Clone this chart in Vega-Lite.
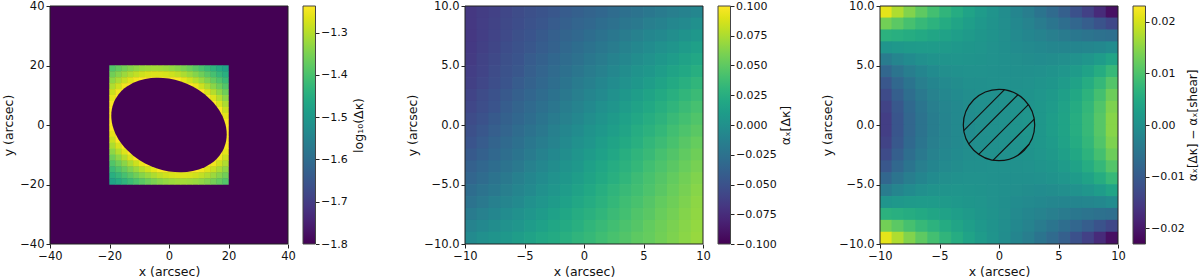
{
"$schema":"https://vega.github.io/schema/vega-lite/v6.json",
"padding":{"left":2,"top":0,"right":0,"bottom":0},
"bounds":"flush",
"spacing":15,
"config":{
"font":"DejaVu Sans",
"view":{"stroke":null},
"axis":{"grid":false,"domain":false,"labelFlush":false,"labelOverlap":false,"tickColor":"#222","tickSize":4,"tickWidth":1,"labelFontSize":11.5,"labelColor":"#111","labelPadding":2,"titleFontSize":12.5,"titleFontWeight":"normal","titleColor":"#111","titlePadding":4}
},
"datasets":{
"bg1":[{"x":-40,"x2":40,"y":-40,"y2":40,"v":-1.8}],
"fr":[{"x":-10,"x2":10,"y":-10,"y2":10}],
"cb1":[{"lo":-1.8,"hi":-1.237}],
"cb2":[{"lo":-0.1,"hi":0.1}],
"cb3":[{"lo":-0.023,"hi":0.023}],
"none":[],
"k1":[
{"x":-19,"y":19,"v":-1.388},{"x":-17,"y":19,"v":-1.371},{"x":-15,"y":19,"v":-1.356},{"x":-13,"y":19,"v":-1.342},{"x":-11,"y":19,"v":-1.331},{"x":-9,"y":19,"v":-1.322},{"x":-7,"y":19,"v":-1.317},{"x":-5,"y":19,"v":-1.314},{"x":-3,"y":19,"v":-1.315},{"x":-1,"y":19,"v":-1.32},{"x":1,"y":19,"v":-1.327},{"x":3,"y":19,"v":-1.337},{"x":5,"y":19,"v":-1.35},{"x":7,"y":19,"v":-1.364},{"x":9,"y":19,"v":-1.381},{"x":11,"y":19,"v":-1.398},{"x":13,"y":19,"v":-1.416},{"x":15,"y":19,"v":-1.435},{"x":17,"y":19,"v":-1.454},{"x":19,"y":19,"v":-1.473},
{"x":-19,"y":17,"v":-1.359},{"x":-17,"y":17,"v":-1.339},{"x":-15,"y":17,"v":-1.321},{"x":-13,"y":17,"v":-1.304},{"x":-11,"y":17,"v":-1.29},{"x":-9,"y":17,"v":-1.278},{"x":-7,"y":17,"v":-1.27},{"x":-5,"y":17,"v":-1.266},{"x":-3,"y":17,"v":-1.267},{"x":-1,"y":17,"v":-1.271},{"x":1,"y":17,"v":-1.279},{"x":3,"y":17,"v":-1.291},{"x":5,"y":17,"v":-1.306},{"x":7,"y":17,"v":-1.323},{"x":9,"y":17,"v":-1.341},{"x":11,"y":17,"v":-1.361},{"x":13,"y":17,"v":-1.382},{"x":15,"y":17,"v":-1.403},{"x":17,"y":17,"v":-1.425},{"x":19,"y":17,"v":-1.446},
{"x":-19,"y":15,"v":-1.331},{"x":-17,"y":15,"v":-1.308},{"x":-15,"y":15,"v":-1.285},{"x":-13,"y":15,"v":-1.264},{"x":-11,"y":15,"v":-1.246},{"x":-9,"y":15,"v":-1.237},{"x":-7,"y":15,"v":-1.237},{"x":-5,"y":15,"v":-1.237},{"x":-3,"y":15,"v":-1.237},{"x":-1,"y":15,"v":-1.237},{"x":1,"y":15,"v":-1.237},{"x":3,"y":15,"v":-1.239},{"x":5,"y":15,"v":-1.257},{"x":7,"y":15,"v":-1.277},{"x":9,"y":15,"v":-1.299},{"x":11,"y":15,"v":-1.322},{"x":13,"y":15,"v":-1.346},{"x":15,"y":15,"v":-1.37},{"x":17,"y":15,"v":-1.394},{"x":19,"y":15,"v":-1.418},
{"x":-19,"y":13,"v":-1.304},{"x":-17,"y":13,"v":-1.277},{"x":-15,"y":13,"v":-1.249},{"x":-13,"y":13,"v":-1.237},{"x":5,"y":13,"v":-1.237},{"x":7,"y":13,"v":-1.237},{"x":9,"y":13,"v":-1.253},{"x":11,"y":13,"v":-1.28},{"x":13,"y":13,"v":-1.308},{"x":15,"y":13,"v":-1.336},{"x":17,"y":13,"v":-1.363},{"x":19,"y":13,"v":-1.39},
{"x":-19,"y":11,"v":-1.28},{"x":-17,"y":11,"v":-1.247},{"x":-15,"y":11,"v":-1.237},{"x":9,"y":11,"v":-1.237},{"x":11,"y":11,"v":-1.237},{"x":13,"y":11,"v":-1.268},{"x":15,"y":11,"v":-1.301},{"x":17,"y":11,"v":-1.332},{"x":19,"y":11,"v":-1.362},
{"x":-19,"y":9,"v":-1.258},{"x":-17,"y":9,"v":-1.237},{"x":13,"y":9,"v":-1.237},{"x":15,"y":9,"v":-1.265},{"x":17,"y":9,"v":-1.3},{"x":19,"y":9,"v":-1.333},
{"x":-19,"y":7,"v":-1.242},{"x":15,"y":7,"v":-1.237},{"x":17,"y":7,"v":-1.269},{"x":19,"y":7,"v":-1.306},
{"x":-19,"y":5,"v":-1.237},{"x":17,"y":5,"v":-1.24},{"x":19,"y":5,"v":-1.282},
{"x":-19,"y":3,"v":-1.237},{"x":17,"y":3,"v":-1.237},{"x":19,"y":3,"v":-1.26},
{"x":-19,"y":1,"v":-1.237},{"x":19,"y":1,"v":-1.243},
{"x":-19,"y":-1,"v":-1.243},{"x":19,"y":-1,"v":-1.237},
{"x":-19,"y":-3,"v":-1.26},{"x":-17,"y":-3,"v":-1.237},{"x":19,"y":-3,"v":-1.237},
{"x":-19,"y":-5,"v":-1.282},{"x":-17,"y":-5,"v":-1.24},{"x":19,"y":-5,"v":-1.237},
{"x":-19,"y":-7,"v":-1.306},{"x":-17,"y":-7,"v":-1.269},{"x":-15,"y":-7,"v":-1.237},{"x":19,"y":-7,"v":-1.242},
{"x":-19,"y":-9,"v":-1.333},{"x":-17,"y":-9,"v":-1.3},{"x":-15,"y":-9,"v":-1.265},{"x":-13,"y":-9,"v":-1.237},{"x":17,"y":-9,"v":-1.237},{"x":19,"y":-9,"v":-1.258},
{"x":-19,"y":-11,"v":-1.362},{"x":-17,"y":-11,"v":-1.332},{"x":-15,"y":-11,"v":-1.301},{"x":-13,"y":-11,"v":-1.268},{"x":-11,"y":-11,"v":-1.237},{"x":-9,"y":-11,"v":-1.237},{"x":15,"y":-11,"v":-1.237},{"x":17,"y":-11,"v":-1.247},{"x":19,"y":-11,"v":-1.28},
{"x":-19,"y":-13,"v":-1.39},{"x":-17,"y":-13,"v":-1.363},{"x":-15,"y":-13,"v":-1.336},{"x":-13,"y":-13,"v":-1.308},{"x":-11,"y":-13,"v":-1.28},{"x":-9,"y":-13,"v":-1.253},{"x":-7,"y":-13,"v":-1.237},{"x":-5,"y":-13,"v":-1.237},{"x":13,"y":-13,"v":-1.237},{"x":15,"y":-13,"v":-1.249},{"x":17,"y":-13,"v":-1.277},{"x":19,"y":-13,"v":-1.304},
{"x":-19,"y":-15,"v":-1.418},{"x":-17,"y":-15,"v":-1.394},{"x":-15,"y":-15,"v":-1.37},{"x":-13,"y":-15,"v":-1.346},{"x":-11,"y":-15,"v":-1.322},{"x":-9,"y":-15,"v":-1.299},{"x":-7,"y":-15,"v":-1.277},{"x":-5,"y":-15,"v":-1.257},{"x":-3,"y":-15,"v":-1.239},{"x":-1,"y":-15,"v":-1.237},{"x":1,"y":-15,"v":-1.237},{"x":3,"y":-15,"v":-1.237},{"x":5,"y":-15,"v":-1.237},{"x":7,"y":-15,"v":-1.237},{"x":9,"y":-15,"v":-1.237},{"x":11,"y":-15,"v":-1.246},{"x":13,"y":-15,"v":-1.264},{"x":15,"y":-15,"v":-1.285},{"x":17,"y":-15,"v":-1.308},{"x":19,"y":-15,"v":-1.331},
{"x":-19,"y":-17,"v":-1.446},{"x":-17,"y":-17,"v":-1.425},{"x":-15,"y":-17,"v":-1.403},{"x":-13,"y":-17,"v":-1.382},{"x":-11,"y":-17,"v":-1.361},{"x":-9,"y":-17,"v":-1.341},{"x":-7,"y":-17,"v":-1.323},{"x":-5,"y":-17,"v":-1.306},{"x":-3,"y":-17,"v":-1.291},{"x":-1,"y":-17,"v":-1.279},{"x":1,"y":-17,"v":-1.271},{"x":3,"y":-17,"v":-1.267},{"x":5,"y":-17,"v":-1.266},{"x":7,"y":-17,"v":-1.27},{"x":9,"y":-17,"v":-1.278},{"x":11,"y":-17,"v":-1.29},{"x":13,"y":-17,"v":-1.304},{"x":15,"y":-17,"v":-1.321},{"x":17,"y":-17,"v":-1.339},{"x":19,"y":-17,"v":-1.359},
{"x":-19,"y":-19,"v":-1.473},{"x":-17,"y":-19,"v":-1.454},{"x":-15,"y":-19,"v":-1.435},{"x":-13,"y":-19,"v":-1.416},{"x":-11,"y":-19,"v":-1.398},{"x":-9,"y":-19,"v":-1.381},{"x":-7,"y":-19,"v":-1.364},{"x":-5,"y":-19,"v":-1.35},{"x":-3,"y":-19,"v":-1.337},{"x":-1,"y":-19,"v":-1.327},{"x":1,"y":-19,"v":-1.32},{"x":3,"y":-19,"v":-1.315},{"x":5,"y":-19,"v":-1.314},{"x":7,"y":-19,"v":-1.317},{"x":9,"y":-19,"v":-1.322},{"x":11,"y":-19,"v":-1.331},{"x":13,"y":-19,"v":-1.342},{"x":15,"y":-19,"v":-1.356},{"x":17,"y":-19,"v":-1.371},{"x":19,"y":-19,"v":-1.388}
],
"ell":[
{"x":-19.4,"lo":3.14,"hi":3.14,"v":-1.8},{"x":-19.35,"lo":1.98,"hi":4.29,"v":-1.8},{"x":-19.2,"lo":0.86,"hi":5.36,"v":-1.8},{"x":-19,"lo":-0.08,"hi":6.24,"v":-1.8},{"x":-18.5,"lo":-1.7,"hi":7.7,"v":-1.8},{"x":-18,"lo":-2.9,"hi":8.74,"v":-1.8},{"x":-17,"lo":-4.76,"hi":10.27,"v":-1.8},{"x":-16,"lo":-6.23,"hi":11.41,"v":-1.8},{"x":-15,"lo":-7.46,"hi":12.32,"v":-1.8},{"x":-14,"lo":-8.52,"hi":13.06,"v":-1.8},{"x":-12,"lo":-10.3,"hi":14.19,"v":-1.8},{"x":-10,"lo":-11.74,"hi":14.98,"v":-1.8},{"x":-8,"lo":-12.9,"hi":15.5,"v":-1.8},{"x":-6,"lo":-13.85,"hi":15.79,"v":-1.8},{"x":-4,"lo":-14.6,"hi":15.9,"v":-1.8},{"x":-2,"lo":-15.18,"hi":15.83,"v":-1.8},{"x":0,"lo":-15.59,"hi":15.59,"v":-1.8},{"x":2,"lo":-15.83,"hi":15.18,"v":-1.8},{"x":4,"lo":-15.9,"hi":14.6,"v":-1.8},{"x":6,"lo":-15.79,"hi":13.85,"v":-1.8},{"x":8,"lo":-15.5,"hi":12.9,"v":-1.8},{"x":10,"lo":-14.98,"hi":11.74,"v":-1.8},{"x":12,"lo":-14.19,"hi":10.3,"v":-1.8},{"x":14,"lo":-13.06,"hi":8.52,"v":-1.8},{"x":15,"lo":-12.32,"hi":7.46,"v":-1.8},{"x":16,"lo":-11.41,"hi":6.23,"v":-1.8},{"x":17,"lo":-10.27,"hi":4.76,"v":-1.8},{"x":18,"lo":-8.74,"hi":2.9,"v":-1.8},{"x":18.5,"lo":-7.7,"hi":1.7,"v":-1.8},{"x":19,"lo":-6.24,"hi":0.08,"v":-1.8},{"x":19.2,"lo":-5.36,"hi":-0.86,"v":-1.8},{"x":19.35,"lo":-4.29,"hi":-1.98,"v":-1.8},{"x":19.4,"lo":-3.14,"hi":-3.14,"v":-1.8}
],
"a2":[
{"x":-9.5,"y":9.5,"v":-0.068},{"x":-8.5,"y":9.5,"v":-0.065},{"x":-7.5,"y":9.5,"v":-0.062},{"x":-6.5,"y":9.5,"v":-0.058},{"x":-5.5,"y":9.5,"v":-0.055},{"x":-4.5,"y":9.5,"v":-0.052},{"x":-3.5,"y":9.5,"v":-0.049},{"x":-2.5,"y":9.5,"v":-0.046},{"x":-1.5,"y":9.5,"v":-0.043},{"x":-0.5,"y":9.5,"v":-0.04},{"x":0.5,"y":9.5,"v":-0.037},{"x":1.5,"y":9.5,"v":-0.034},{"x":2.5,"y":9.5,"v":-0.03},{"x":3.5,"y":9.5,"v":-0.027},{"x":4.5,"y":9.5,"v":-0.024},{"x":5.5,"y":9.5,"v":-0.021},{"x":6.5,"y":9.5,"v":-0.018},{"x":7.5,"y":9.5,"v":-0.015},{"x":8.5,"y":9.5,"v":-0.012},{"x":9.5,"y":9.5,"v":-0.009},
{"x":-9.5,"y":8.5,"v":-0.068},{"x":-8.5,"y":8.5,"v":-0.064},{"x":-7.5,"y":8.5,"v":-0.061},{"x":-6.5,"y":8.5,"v":-0.057},{"x":-5.5,"y":8.5,"v":-0.054},{"x":-4.5,"y":8.5,"v":-0.05},{"x":-3.5,"y":8.5,"v":-0.047},{"x":-2.5,"y":8.5,"v":-0.043},{"x":-1.5,"y":8.5,"v":-0.04},{"x":-0.5,"y":8.5,"v":-0.036},{"x":0.5,"y":8.5,"v":-0.033},{"x":1.5,"y":8.5,"v":-0.029},{"x":2.5,"y":8.5,"v":-0.026},{"x":3.5,"y":8.5,"v":-0.022},{"x":4.5,"y":8.5,"v":-0.019},{"x":5.5,"y":8.5,"v":-0.015},{"x":6.5,"y":8.5,"v":-0.012},{"x":7.5,"y":8.5,"v":-0.008},{"x":8.5,"y":8.5,"v":-0.005},{"x":9.5,"y":8.5,"v":-0.001},
{"x":-9.5,"y":7.5,"v":-0.068},{"x":-8.5,"y":7.5,"v":-0.064},{"x":-7.5,"y":7.5,"v":-0.06},{"x":-6.5,"y":7.5,"v":-0.056},{"x":-5.5,"y":7.5,"v":-0.052},{"x":-4.5,"y":7.5,"v":-0.048},{"x":-3.5,"y":7.5,"v":-0.044},{"x":-2.5,"y":7.5,"v":-0.04},{"x":-1.5,"y":7.5,"v":-0.037},{"x":-0.5,"y":7.5,"v":-0.033},{"x":0.5,"y":7.5,"v":-0.029},{"x":1.5,"y":7.5,"v":-0.025},{"x":2.5,"y":7.5,"v":-0.021},{"x":3.5,"y":7.5,"v":-0.017},{"x":4.5,"y":7.5,"v":-0.013},{"x":5.5,"y":7.5,"v":-0.009},{"x":6.5,"y":7.5,"v":-0.006},{"x":7.5,"y":7.5,"v":-0.002},{"x":8.5,"y":7.5,"v":0.002},{"x":9.5,"y":7.5,"v":0.006},
{"x":-9.5,"y":6.5,"v":-0.067},{"x":-8.5,"y":6.5,"v":-0.063},{"x":-7.5,"y":6.5,"v":-0.059},{"x":-6.5,"y":6.5,"v":-0.054},{"x":-5.5,"y":6.5,"v":-0.05},{"x":-4.5,"y":6.5,"v":-0.046},{"x":-3.5,"y":6.5,"v":-0.042},{"x":-2.5,"y":6.5,"v":-0.038},{"x":-1.5,"y":6.5,"v":-0.033},{"x":-0.5,"y":6.5,"v":-0.029},{"x":0.5,"y":6.5,"v":-0.025},{"x":1.5,"y":6.5,"v":-0.021},{"x":2.5,"y":6.5,"v":-0.017},{"x":3.5,"y":6.5,"v":-0.012},{"x":4.5,"y":6.5,"v":-0.008},{"x":5.5,"y":6.5,"v":-0.004},{"x":6.5,"y":6.5,"v":0},{"x":7.5,"y":6.5,"v":0.004},{"x":8.5,"y":6.5,"v":0.009},{"x":9.5,"y":6.5,"v":0.013},
{"x":-9.5,"y":5.5,"v":-0.066},{"x":-8.5,"y":5.5,"v":-0.061},{"x":-7.5,"y":5.5,"v":-0.057},{"x":-6.5,"y":5.5,"v":-0.052},{"x":-5.5,"y":5.5,"v":-0.048},{"x":-4.5,"y":5.5,"v":-0.043},{"x":-3.5,"y":5.5,"v":-0.039},{"x":-2.5,"y":5.5,"v":-0.034},{"x":-1.5,"y":5.5,"v":-0.03},{"x":-0.5,"y":5.5,"v":-0.026},{"x":0.5,"y":5.5,"v":-0.021},{"x":1.5,"y":5.5,"v":-0.017},{"x":2.5,"y":5.5,"v":-0.012},{"x":3.5,"y":5.5,"v":-0.008},{"x":4.5,"y":5.5,"v":-0.003},{"x":5.5,"y":5.5,"v":0.001},{"x":6.5,"y":5.5,"v":0.006},{"x":7.5,"y":5.5,"v":0.01},{"x":8.5,"y":5.5,"v":0.015},{"x":9.5,"y":5.5,"v":0.019},
{"x":-9.5,"y":4.5,"v":-0.064},{"x":-8.5,"y":4.5,"v":-0.06},{"x":-7.5,"y":4.5,"v":-0.055},{"x":-6.5,"y":4.5,"v":-0.05},{"x":-5.5,"y":4.5,"v":-0.046},{"x":-4.5,"y":4.5,"v":-0.041},{"x":-3.5,"y":4.5,"v":-0.036},{"x":-2.5,"y":4.5,"v":-0.031},{"x":-1.5,"y":4.5,"v":-0.027},{"x":-0.5,"y":4.5,"v":-0.022},{"x":0.5,"y":4.5,"v":-0.017},{"x":1.5,"y":4.5,"v":-0.013},{"x":2.5,"y":4.5,"v":-0.008},{"x":3.5,"y":4.5,"v":-0.003},{"x":4.5,"y":4.5,"v":0.002},{"x":5.5,"y":4.5,"v":0.006},{"x":6.5,"y":4.5,"v":0.011},{"x":7.5,"y":4.5,"v":0.016},{"x":8.5,"y":4.5,"v":0.02},{"x":9.5,"y":4.5,"v":0.025},
{"x":-9.5,"y":3.5,"v":-0.063},{"x":-8.5,"y":3.5,"v":-0.058},{"x":-7.5,"y":3.5,"v":-0.053},{"x":-6.5,"y":3.5,"v":-0.048},{"x":-5.5,"y":3.5,"v":-0.043},{"x":-4.5,"y":3.5,"v":-0.038},{"x":-3.5,"y":3.5,"v":-0.033},{"x":-2.5,"y":3.5,"v":-0.028},{"x":-1.5,"y":3.5,"v":-0.023},{"x":-0.5,"y":3.5,"v":-0.018},{"x":0.5,"y":3.5,"v":-0.014},{"x":1.5,"y":3.5,"v":-0.009},{"x":2.5,"y":3.5,"v":-0.004},{"x":3.5,"y":3.5,"v":0.001},{"x":4.5,"y":3.5,"v":0.006},{"x":5.5,"y":3.5,"v":0.011},{"x":6.5,"y":3.5,"v":0.016},{"x":7.5,"y":3.5,"v":0.021},{"x":8.5,"y":3.5,"v":0.026},{"x":9.5,"y":3.5,"v":0.031},
{"x":-9.5,"y":2.5,"v":-0.06},{"x":-8.5,"y":2.5,"v":-0.055},{"x":-7.5,"y":2.5,"v":-0.05},{"x":-6.5,"y":2.5,"v":-0.045},{"x":-5.5,"y":2.5,"v":-0.04},{"x":-4.5,"y":2.5,"v":-0.035},{"x":-3.5,"y":2.5,"v":-0.03},{"x":-2.5,"y":2.5,"v":-0.025},{"x":-1.5,"y":2.5,"v":-0.02},{"x":-0.5,"y":2.5,"v":-0.015},{"x":0.5,"y":2.5,"v":-0.01},{"x":1.5,"y":2.5,"v":-0.005},{"x":2.5,"y":2.5,"v":0},{"x":3.5,"y":2.5,"v":0.006},{"x":4.5,"y":2.5,"v":0.011},{"x":5.5,"y":2.5,"v":0.016},{"x":6.5,"y":2.5,"v":0.021},{"x":7.5,"y":2.5,"v":0.026},{"x":8.5,"y":2.5,"v":0.031},{"x":9.5,"y":2.5,"v":0.036},
{"x":-9.5,"y":1.5,"v":-0.058},{"x":-8.5,"y":1.5,"v":-0.053},{"x":-7.5,"y":1.5,"v":-0.048},{"x":-6.5,"y":1.5,"v":-0.042},{"x":-5.5,"y":1.5,"v":-0.037},{"x":-4.5,"y":1.5,"v":-0.032},{"x":-3.5,"y":1.5,"v":-0.027},{"x":-2.5,"y":1.5,"v":-0.022},{"x":-1.5,"y":1.5,"v":-0.016},{"x":-0.5,"y":1.5,"v":-0.011},{"x":0.5,"y":1.5,"v":-0.006},{"x":1.5,"y":1.5,"v":-0.001},{"x":2.5,"y":1.5,"v":0.004},{"x":3.5,"y":1.5,"v":0.01},{"x":4.5,"y":1.5,"v":0.015},{"x":5.5,"y":1.5,"v":0.02},{"x":6.5,"y":1.5,"v":0.025},{"x":7.5,"y":1.5,"v":0.03},{"x":8.5,"y":1.5,"v":0.036},{"x":9.5,"y":1.5,"v":0.041},
{"x":-9.5,"y":0.5,"v":-0.055},{"x":-8.5,"y":0.5,"v":-0.05},{"x":-7.5,"y":0.5,"v":-0.044},{"x":-6.5,"y":0.5,"v":-0.039},{"x":-5.5,"y":0.5,"v":-0.034},{"x":-4.5,"y":0.5,"v":-0.029},{"x":-3.5,"y":0.5,"v":-0.023},{"x":-2.5,"y":0.5,"v":-0.018},{"x":-1.5,"y":0.5,"v":-0.013},{"x":-0.5,"y":0.5,"v":-0.008},{"x":0.5,"y":0.5,"v":-0.002},{"x":1.5,"y":0.5,"v":0.003},{"x":2.5,"y":0.5,"v":0.008},{"x":3.5,"y":0.5,"v":0.014},{"x":4.5,"y":0.5,"v":0.019},{"x":5.5,"y":0.5,"v":0.024},{"x":6.5,"y":0.5,"v":0.029},{"x":7.5,"y":0.5,"v":0.035},{"x":8.5,"y":0.5,"v":0.04},{"x":9.5,"y":0.5,"v":0.045},
{"x":-9.5,"y":-0.5,"v":-0.052},{"x":-8.5,"y":-0.5,"v":-0.046},{"x":-7.5,"y":-0.5,"v":-0.041},{"x":-6.5,"y":-0.5,"v":-0.036},{"x":-5.5,"y":-0.5,"v":-0.03},{"x":-4.5,"y":-0.5,"v":-0.025},{"x":-3.5,"y":-0.5,"v":-0.02},{"x":-2.5,"y":-0.5,"v":-0.014},{"x":-1.5,"y":-0.5,"v":-0.009},{"x":-0.5,"y":-0.5,"v":-0.004},{"x":0.5,"y":-0.5,"v":0.002},{"x":1.5,"y":-0.5,"v":0.007},{"x":2.5,"y":-0.5,"v":0.012},{"x":3.5,"y":-0.5,"v":0.017},{"x":4.5,"y":-0.5,"v":0.023},{"x":5.5,"y":-0.5,"v":0.028},{"x":6.5,"y":-0.5,"v":0.033},{"x":7.5,"y":-0.5,"v":0.039},{"x":8.5,"y":-0.5,"v":0.044},{"x":9.5,"y":-0.5,"v":0.049},
{"x":-9.5,"y":-1.5,"v":-0.048},{"x":-8.5,"y":-1.5,"v":-0.043},{"x":-7.5,"y":-1.5,"v":-0.037},{"x":-6.5,"y":-1.5,"v":-0.032},{"x":-5.5,"y":-1.5,"v":-0.027},{"x":-4.5,"y":-1.5,"v":-0.021},{"x":-3.5,"y":-1.5,"v":-0.016},{"x":-2.5,"y":-1.5,"v":-0.011},{"x":-1.5,"y":-1.5,"v":-0.005},{"x":-0.5,"y":-1.5,"v":0},{"x":0.5,"y":-1.5,"v":0.005},{"x":1.5,"y":-1.5,"v":0.011},{"x":2.5,"y":-1.5,"v":0.016},{"x":3.5,"y":-1.5,"v":0.021},{"x":4.5,"y":-1.5,"v":0.026},{"x":5.5,"y":-1.5,"v":0.032},{"x":6.5,"y":-1.5,"v":0.037},{"x":7.5,"y":-1.5,"v":0.042},{"x":8.5,"y":-1.5,"v":0.048},{"x":9.5,"y":-1.5,"v":0.053},
{"x":-9.5,"y":-2.5,"v":-0.044},{"x":-8.5,"y":-2.5,"v":-0.039},{"x":-7.5,"y":-2.5,"v":-0.033},{"x":-6.5,"y":-2.5,"v":-0.028},{"x":-5.5,"y":-2.5,"v":-0.023},{"x":-4.5,"y":-2.5,"v":-0.018},{"x":-3.5,"y":-2.5,"v":-0.012},{"x":-2.5,"y":-2.5,"v":-0.007},{"x":-1.5,"y":-2.5,"v":-0.002},{"x":-0.5,"y":-2.5,"v":0.004},{"x":0.5,"y":-2.5,"v":0.009},{"x":1.5,"y":-2.5,"v":0.014},{"x":2.5,"y":-2.5,"v":0.019},{"x":3.5,"y":-2.5,"v":0.025},{"x":4.5,"y":-2.5,"v":0.03},{"x":5.5,"y":-2.5,"v":0.035},{"x":6.5,"y":-2.5,"v":0.041},{"x":7.5,"y":-2.5,"v":0.046},{"x":8.5,"y":-2.5,"v":0.051},{"x":9.5,"y":-2.5,"v":0.056},
{"x":-9.5,"y":-3.5,"v":-0.039},{"x":-8.5,"y":-3.5,"v":-0.034},{"x":-7.5,"y":-3.5,"v":-0.029},{"x":-6.5,"y":-3.5,"v":-0.024},{"x":-5.5,"y":-3.5,"v":-0.019},{"x":-4.5,"y":-3.5,"v":-0.013},{"x":-3.5,"y":-3.5,"v":-0.008},{"x":-2.5,"y":-3.5,"v":-0.003},{"x":-1.5,"y":-3.5,"v":0.002},{"x":-0.5,"y":-3.5,"v":0.007},{"x":0.5,"y":-3.5,"v":0.013},{"x":1.5,"y":-3.5,"v":0.018},{"x":2.5,"y":-3.5,"v":0.023},{"x":3.5,"y":-3.5,"v":0.028},{"x":4.5,"y":-3.5,"v":0.033},{"x":5.5,"y":-3.5,"v":0.039},{"x":6.5,"y":-3.5,"v":0.044},{"x":7.5,"y":-3.5,"v":0.049},{"x":8.5,"y":-3.5,"v":0.054},{"x":9.5,"y":-3.5,"v":0.059},
{"x":-9.5,"y":-4.5,"v":-0.035},{"x":-8.5,"y":-4.5,"v":-0.03},{"x":-7.5,"y":-4.5,"v":-0.024},{"x":-6.5,"y":-4.5,"v":-0.019},{"x":-5.5,"y":-4.5,"v":-0.014},{"x":-4.5,"y":-4.5,"v":-0.009},{"x":-3.5,"y":-4.5,"v":-0.004},{"x":-2.5,"y":-4.5,"v":0.001},{"x":-1.5,"y":-4.5,"v":0.006},{"x":-0.5,"y":-4.5,"v":0.011},{"x":0.5,"y":-4.5,"v":0.016},{"x":1.5,"y":-4.5,"v":0.021},{"x":2.5,"y":-4.5,"v":0.026},{"x":3.5,"y":-4.5,"v":0.031},{"x":4.5,"y":-4.5,"v":0.037},{"x":5.5,"y":-4.5,"v":0.042},{"x":6.5,"y":-4.5,"v":0.047},{"x":7.5,"y":-4.5,"v":0.052},{"x":8.5,"y":-4.5,"v":0.057},{"x":9.5,"y":-4.5,"v":0.062},
{"x":-9.5,"y":-5.5,"v":-0.029},{"x":-8.5,"y":-5.5,"v":-0.024},{"x":-7.5,"y":-5.5,"v":-0.02},{"x":-6.5,"y":-5.5,"v":-0.015},{"x":-5.5,"y":-5.5,"v":-0.01},{"x":-4.5,"y":-5.5,"v":-0.005},{"x":-3.5,"y":-5.5,"v":0},{"x":-2.5,"y":-5.5,"v":0.005},{"x":-1.5,"y":-5.5,"v":0.01},{"x":-0.5,"y":-5.5,"v":0.015},{"x":0.5,"y":-5.5,"v":0.02},{"x":1.5,"y":-5.5,"v":0.025},{"x":2.5,"y":-5.5,"v":0.03},{"x":3.5,"y":-5.5,"v":0.035},{"x":4.5,"y":-5.5,"v":0.039},{"x":5.5,"y":-5.5,"v":0.044},{"x":6.5,"y":-5.5,"v":0.049},{"x":7.5,"y":-5.5,"v":0.054},{"x":8.5,"y":-5.5,"v":0.059},{"x":9.5,"y":-5.5,"v":0.064},
{"x":-9.5,"y":-6.5,"v":-0.024},{"x":-8.5,"y":-6.5,"v":-0.019},{"x":-7.5,"y":-6.5,"v":-0.014},{"x":-6.5,"y":-6.5,"v":-0.01},{"x":-5.5,"y":-6.5,"v":-0.005},{"x":-4.5,"y":-6.5,"v":0},{"x":-3.5,"y":-6.5,"v":0.005},{"x":-2.5,"y":-6.5,"v":0.009},{"x":-1.5,"y":-6.5,"v":0.014},{"x":-0.5,"y":-6.5,"v":0.019},{"x":0.5,"y":-6.5,"v":0.023},{"x":1.5,"y":-6.5,"v":0.028},{"x":2.5,"y":-6.5,"v":0.033},{"x":3.5,"y":-6.5,"v":0.038},{"x":4.5,"y":-6.5,"v":0.042},{"x":5.5,"y":-6.5,"v":0.047},{"x":6.5,"y":-6.5,"v":0.052},{"x":7.5,"y":-6.5,"v":0.056},{"x":8.5,"y":-6.5,"v":0.061},{"x":9.5,"y":-6.5,"v":0.066},
{"x":-9.5,"y":-7.5,"v":-0.018},{"x":-8.5,"y":-7.5,"v":-0.013},{"x":-7.5,"y":-7.5,"v":-0.009},{"x":-6.5,"y":-7.5,"v":-0.004},{"x":-5.5,"y":-7.5,"v":0},{"x":-4.5,"y":-7.5,"v":0.005},{"x":-3.5,"y":-7.5,"v":0.009},{"x":-2.5,"y":-7.5,"v":0.014},{"x":-1.5,"y":-7.5,"v":0.018},{"x":-0.5,"y":-7.5,"v":0.023},{"x":0.5,"y":-7.5,"v":0.027},{"x":1.5,"y":-7.5,"v":0.031},{"x":2.5,"y":-7.5,"v":0.036},{"x":3.5,"y":-7.5,"v":0.04},{"x":4.5,"y":-7.5,"v":0.045},{"x":5.5,"y":-7.5,"v":0.049},{"x":6.5,"y":-7.5,"v":0.054},{"x":7.5,"y":-7.5,"v":0.058},{"x":8.5,"y":-7.5,"v":0.063},{"x":9.5,"y":-7.5,"v":0.067},
{"x":-9.5,"y":-8.5,"v":-0.011},{"x":-8.5,"y":-8.5,"v":-0.007},{"x":-7.5,"y":-8.5,"v":-0.003},{"x":-6.5,"y":-8.5,"v":0.001},{"x":-5.5,"y":-8.5,"v":0.005},{"x":-4.5,"y":-8.5,"v":0.01},{"x":-3.5,"y":-8.5,"v":0.014},{"x":-2.5,"y":-8.5,"v":0.018},{"x":-1.5,"y":-8.5,"v":0.022},{"x":-0.5,"y":-8.5,"v":0.026},{"x":0.5,"y":-8.5,"v":0.031},{"x":1.5,"y":-8.5,"v":0.035},{"x":2.5,"y":-8.5,"v":0.039},{"x":3.5,"y":-8.5,"v":0.043},{"x":4.5,"y":-8.5,"v":0.047},{"x":5.5,"y":-8.5,"v":0.052},{"x":6.5,"y":-8.5,"v":0.056},{"x":7.5,"y":-8.5,"v":0.06},{"x":8.5,"y":-8.5,"v":0.064},{"x":9.5,"y":-8.5,"v":0.068},
{"x":-9.5,"y":-9.5,"v":-0.005},{"x":-8.5,"y":-9.5,"v":-0.001},{"x":-7.5,"y":-9.5,"v":0.003},{"x":-6.5,"y":-9.5,"v":0.007},{"x":-5.5,"y":-9.5,"v":0.011},{"x":-4.5,"y":-9.5,"v":0.015},{"x":-3.5,"y":-9.5,"v":0.019},{"x":-2.5,"y":-9.5,"v":0.022},{"x":-1.5,"y":-9.5,"v":0.026},{"x":-0.5,"y":-9.5,"v":0.03},{"x":0.5,"y":-9.5,"v":0.034},{"x":1.5,"y":-9.5,"v":0.038},{"x":2.5,"y":-9.5,"v":0.042},{"x":3.5,"y":-9.5,"v":0.046},{"x":4.5,"y":-9.5,"v":0.05},{"x":5.5,"y":-9.5,"v":0.053},{"x":6.5,"y":-9.5,"v":0.057},{"x":7.5,"y":-9.5,"v":0.061},{"x":8.5,"y":-9.5,"v":0.065},{"x":9.5,"y":-9.5,"v":0.069}
],
"r3":[
{"x":-9.5,"y":9.5,"v":0.0212},{"x":-8.5,"y":9.5,"v":0.0175},{"x":-7.5,"y":9.5,"v":0.0143},{"x":-6.5,"y":9.5,"v":0.0116},{"x":-5.5,"y":9.5,"v":0.0092},{"x":-4.5,"y":9.5,"v":0.0071},{"x":-3.5,"y":9.5,"v":0.0053},{"x":-2.5,"y":9.5,"v":0.0036},{"x":-1.5,"y":9.5,"v":0.0021},{"x":-0.5,"y":9.5,"v":0.0007},{"x":0.5,"y":9.5,"v":-0.0007},{"x":1.5,"y":9.5,"v":-0.0021},{"x":2.5,"y":9.5,"v":-0.0036},{"x":3.5,"y":9.5,"v":-0.0053},{"x":4.5,"y":9.5,"v":-0.0071},{"x":5.5,"y":9.5,"v":-0.0092},{"x":6.5,"y":9.5,"v":-0.0116},{"x":7.5,"y":9.5,"v":-0.0143},{"x":8.5,"y":9.5,"v":-0.0175},{"x":9.5,"y":9.5,"v":-0.0212},
{"x":-9.5,"y":8.5,"v":0.0132},{"x":-8.5,"y":8.5,"v":0.0113},{"x":-7.5,"y":8.5,"v":0.0095},{"x":-6.5,"y":8.5,"v":0.0079},{"x":-5.5,"y":8.5,"v":0.0065},{"x":-4.5,"y":8.5,"v":0.0051},{"x":-3.5,"y":8.5,"v":0.0039},{"x":-2.5,"y":8.5,"v":0.0027},{"x":-1.5,"y":8.5,"v":0.0016},{"x":-0.5,"y":8.5,"v":0.0005},{"x":0.5,"y":8.5,"v":-0.0005},{"x":1.5,"y":8.5,"v":-0.0016},{"x":2.5,"y":8.5,"v":-0.0027},{"x":3.5,"y":8.5,"v":-0.0039},{"x":4.5,"y":8.5,"v":-0.0051},{"x":5.5,"y":8.5,"v":-0.0065},{"x":6.5,"y":8.5,"v":-0.0079},{"x":7.5,"y":8.5,"v":-0.0095},{"x":8.5,"y":8.5,"v":-0.0113},{"x":9.5,"y":8.5,"v":-0.0132},
{"x":-9.5,"y":7.5,"v":0.0064},{"x":-8.5,"y":7.5,"v":0.0059},{"x":-7.5,"y":7.5,"v":0.0054},{"x":-6.5,"y":7.5,"v":0.0048},{"x":-5.5,"y":7.5,"v":0.0041},{"x":-4.5,"y":7.5,"v":0.0034},{"x":-3.5,"y":7.5,"v":0.0027},{"x":-2.5,"y":7.5,"v":0.0019},{"x":-1.5,"y":7.5,"v":0.0012},{"x":-0.5,"y":7.5,"v":0.0004},{"x":0.5,"y":7.5,"v":-0.0004},{"x":1.5,"y":7.5,"v":-0.0012},{"x":2.5,"y":7.5,"v":-0.0019},{"x":3.5,"y":7.5,"v":-0.0027},{"x":4.5,"y":7.5,"v":-0.0034},{"x":5.5,"y":7.5,"v":-0.0041},{"x":6.5,"y":7.5,"v":-0.0048},{"x":7.5,"y":7.5,"v":-0.0054},{"x":8.5,"y":7.5,"v":-0.0059},{"x":9.5,"y":7.5,"v":-0.0064},
{"x":-9.5,"y":6.5,"v":0.0008},{"x":-8.5,"y":6.5,"v":0.0015},{"x":-7.5,"y":6.5,"v":0.0019},{"x":-6.5,"y":6.5,"v":0.0021},{"x":-5.5,"y":6.5,"v":0.0021},{"x":-4.5,"y":6.5,"v":0.0019},{"x":-3.5,"y":6.5,"v":0.0016},{"x":-2.5,"y":6.5,"v":0.0012},{"x":-1.5,"y":6.5,"v":0.0008},{"x":-0.5,"y":6.5,"v":0.0003},{"x":0.5,"y":6.5,"v":-0.0003},{"x":1.5,"y":6.5,"v":-0.0008},{"x":2.5,"y":6.5,"v":-0.0012},{"x":3.5,"y":6.5,"v":-0.0016},{"x":4.5,"y":6.5,"v":-0.0019},{"x":5.5,"y":6.5,"v":-0.0021},{"x":6.5,"y":6.5,"v":-0.0021},{"x":7.5,"y":6.5,"v":-0.0019},{"x":8.5,"y":6.5,"v":-0.0015},{"x":9.5,"y":6.5,"v":-0.0008},
{"x":-9.5,"y":5.5,"v":-0.0039},{"x":-8.5,"y":5.5,"v":-0.0023},{"x":-7.5,"y":5.5,"v":-0.001},{"x":-6.5,"y":5.5,"v":-0.0002},{"x":-5.5,"y":5.5,"v":0.0004},{"x":-4.5,"y":5.5,"v":0.0007},{"x":-3.5,"y":5.5,"v":0.0008},{"x":-2.5,"y":5.5,"v":0.0007},{"x":-1.5,"y":5.5,"v":0.0004},{"x":-0.5,"y":5.5,"v":0.0002},{"x":0.5,"y":5.5,"v":-0.0002},{"x":1.5,"y":5.5,"v":-0.0004},{"x":2.5,"y":5.5,"v":-0.0007},{"x":3.5,"y":5.5,"v":-0.0008},{"x":4.5,"y":5.5,"v":-0.0007},{"x":5.5,"y":5.5,"v":-0.0004},{"x":6.5,"y":5.5,"v":0.0002},{"x":7.5,"y":5.5,"v":0.001},{"x":8.5,"y":5.5,"v":0.0023},{"x":9.5,"y":5.5,"v":0.0039},
{"x":-9.5,"y":4.5,"v":-0.0079},{"x":-8.5,"y":4.5,"v":-0.0054},{"x":-7.5,"y":4.5,"v":-0.0035},{"x":-6.5,"y":4.5,"v":-0.0021},{"x":-5.5,"y":4.5,"v":-0.001},{"x":-4.5,"y":4.5,"v":-0.0004},{"x":-3.5,"y":4.5,"v":0},{"x":-2.5,"y":4.5,"v":0.0002},{"x":-1.5,"y":4.5,"v":0.0002},{"x":-0.5,"y":4.5,"v":0.0001},{"x":0.5,"y":4.5,"v":-0.0001},{"x":1.5,"y":4.5,"v":-0.0002},{"x":2.5,"y":4.5,"v":-0.0002},{"x":3.5,"y":4.5,"v":0},{"x":4.5,"y":4.5,"v":0.0004},{"x":5.5,"y":4.5,"v":0.001},{"x":6.5,"y":4.5,"v":0.0021},{"x":7.5,"y":4.5,"v":0.0035},{"x":8.5,"y":4.5,"v":0.0054},{"x":9.5,"y":4.5,"v":0.0079},
{"x":-9.5,"y":3.5,"v":-0.0106},{"x":-8.5,"y":3.5,"v":-0.0076},{"x":-7.5,"y":3.5,"v":-0.0053},{"x":-6.5,"y":3.5,"v":-0.0034},{"x":-5.5,"y":3.5,"v":-0.0021},{"x":-4.5,"y":3.5,"v":-0.0012},{"x":-3.5,"y":3.5,"v":-0.0006},{"x":-2.5,"y":3.5,"v":-0.0002},{"x":-1.5,"y":3.5,"v":-0.0001},{"x":-0.5,"y":3.5,"v":0},{"x":0.5,"y":3.5,"v":0},{"x":1.5,"y":3.5,"v":0.0001},{"x":2.5,"y":3.5,"v":0.0002},{"x":3.5,"y":3.5,"v":0.0006},{"x":4.5,"y":3.5,"v":0.0012},{"x":5.5,"y":3.5,"v":0.0021},{"x":6.5,"y":3.5,"v":0.0034},{"x":7.5,"y":3.5,"v":0.0053},{"x":8.5,"y":3.5,"v":0.0076},{"x":9.5,"y":3.5,"v":0.0106},
{"x":-9.5,"y":2.5,"v":-0.0127},{"x":-8.5,"y":2.5,"v":-0.0093},{"x":-7.5,"y":2.5,"v":-0.0066},{"x":-6.5,"y":2.5,"v":-0.0045},{"x":-5.5,"y":2.5,"v":-0.0029},{"x":-4.5,"y":2.5,"v":-0.0018},{"x":-3.5,"y":2.5,"v":-0.001},{"x":-2.5,"y":2.5,"v":-0.0005},{"x":-1.5,"y":2.5,"v":-0.0002},{"x":-0.5,"y":2.5,"v":-0.0001},{"x":0.5,"y":2.5,"v":0.0001},{"x":1.5,"y":2.5,"v":0.0002},{"x":2.5,"y":2.5,"v":0.0005},{"x":3.5,"y":2.5,"v":0.001},{"x":4.5,"y":2.5,"v":0.0018},{"x":5.5,"y":2.5,"v":0.0029},{"x":6.5,"y":2.5,"v":0.0045},{"x":7.5,"y":2.5,"v":0.0066},{"x":8.5,"y":2.5,"v":0.0093},{"x":9.5,"y":2.5,"v":0.0127},
{"x":-9.5,"y":1.5,"v":-0.014},{"x":-8.5,"y":1.5,"v":-0.0104},{"x":-7.5,"y":1.5,"v":-0.0074},{"x":-6.5,"y":1.5,"v":-0.0052},{"x":-5.5,"y":1.5,"v":-0.0034},{"x":-4.5,"y":1.5,"v":-0.0022},{"x":-3.5,"y":1.5,"v":-0.0013},{"x":-2.5,"y":1.5,"v":-0.0007},{"x":-1.5,"y":1.5,"v":-0.0003},{"x":-0.5,"y":1.5,"v":-0.0001},{"x":0.5,"y":1.5,"v":0.0001},{"x":1.5,"y":1.5,"v":0.0003},{"x":2.5,"y":1.5,"v":0.0007},{"x":3.5,"y":1.5,"v":0.0013},{"x":4.5,"y":1.5,"v":0.0022},{"x":5.5,"y":1.5,"v":0.0034},{"x":6.5,"y":1.5,"v":0.0052},{"x":7.5,"y":1.5,"v":0.0074},{"x":8.5,"y":1.5,"v":0.0104},{"x":9.5,"y":1.5,"v":0.014},
{"x":-9.5,"y":0.5,"v":-0.0147},{"x":-8.5,"y":0.5,"v":-0.0109},{"x":-7.5,"y":0.5,"v":-0.0079},{"x":-6.5,"y":0.5,"v":-0.0055},{"x":-5.5,"y":0.5,"v":-0.0037},{"x":-4.5,"y":0.5,"v":-0.0024},{"x":-3.5,"y":0.5,"v":-0.0014},{"x":-2.5,"y":0.5,"v":-0.0008},{"x":-1.5,"y":0.5,"v":-0.0004},{"x":-0.5,"y":0.5,"v":-0.0001},{"x":0.5,"y":0.5,"v":0.0001},{"x":1.5,"y":0.5,"v":0.0004},{"x":2.5,"y":0.5,"v":0.0008},{"x":3.5,"y":0.5,"v":0.0014},{"x":4.5,"y":0.5,"v":0.0024},{"x":5.5,"y":0.5,"v":0.0037},{"x":6.5,"y":0.5,"v":0.0055},{"x":7.5,"y":0.5,"v":0.0079},{"x":8.5,"y":0.5,"v":0.0109},{"x":9.5,"y":0.5,"v":0.0147},
{"x":-9.5,"y":-0.5,"v":-0.0147},{"x":-8.5,"y":-0.5,"v":-0.0109},{"x":-7.5,"y":-0.5,"v":-0.0079},{"x":-6.5,"y":-0.5,"v":-0.0055},{"x":-5.5,"y":-0.5,"v":-0.0037},{"x":-4.5,"y":-0.5,"v":-0.0024},{"x":-3.5,"y":-0.5,"v":-0.0014},{"x":-2.5,"y":-0.5,"v":-0.0008},{"x":-1.5,"y":-0.5,"v":-0.0004},{"x":-0.5,"y":-0.5,"v":-0.0001},{"x":0.5,"y":-0.5,"v":0.0001},{"x":1.5,"y":-0.5,"v":0.0004},{"x":2.5,"y":-0.5,"v":0.0008},{"x":3.5,"y":-0.5,"v":0.0014},{"x":4.5,"y":-0.5,"v":0.0024},{"x":5.5,"y":-0.5,"v":0.0037},{"x":6.5,"y":-0.5,"v":0.0055},{"x":7.5,"y":-0.5,"v":0.0079},{"x":8.5,"y":-0.5,"v":0.0109},{"x":9.5,"y":-0.5,"v":0.0147},
{"x":-9.5,"y":-1.5,"v":-0.014},{"x":-8.5,"y":-1.5,"v":-0.0104},{"x":-7.5,"y":-1.5,"v":-0.0074},{"x":-6.5,"y":-1.5,"v":-0.0052},{"x":-5.5,"y":-1.5,"v":-0.0034},{"x":-4.5,"y":-1.5,"v":-0.0022},{"x":-3.5,"y":-1.5,"v":-0.0013},{"x":-2.5,"y":-1.5,"v":-0.0007},{"x":-1.5,"y":-1.5,"v":-0.0003},{"x":-0.5,"y":-1.5,"v":-0.0001},{"x":0.5,"y":-1.5,"v":0.0001},{"x":1.5,"y":-1.5,"v":0.0003},{"x":2.5,"y":-1.5,"v":0.0007},{"x":3.5,"y":-1.5,"v":0.0013},{"x":4.5,"y":-1.5,"v":0.0022},{"x":5.5,"y":-1.5,"v":0.0034},{"x":6.5,"y":-1.5,"v":0.0052},{"x":7.5,"y":-1.5,"v":0.0074},{"x":8.5,"y":-1.5,"v":0.0104},{"x":9.5,"y":-1.5,"v":0.014},
{"x":-9.5,"y":-2.5,"v":-0.0127},{"x":-8.5,"y":-2.5,"v":-0.0093},{"x":-7.5,"y":-2.5,"v":-0.0066},{"x":-6.5,"y":-2.5,"v":-0.0045},{"x":-5.5,"y":-2.5,"v":-0.0029},{"x":-4.5,"y":-2.5,"v":-0.0018},{"x":-3.5,"y":-2.5,"v":-0.001},{"x":-2.5,"y":-2.5,"v":-0.0005},{"x":-1.5,"y":-2.5,"v":-0.0002},{"x":-0.5,"y":-2.5,"v":-0.0001},{"x":0.5,"y":-2.5,"v":0.0001},{"x":1.5,"y":-2.5,"v":0.0002},{"x":2.5,"y":-2.5,"v":0.0005},{"x":3.5,"y":-2.5,"v":0.001},{"x":4.5,"y":-2.5,"v":0.0018},{"x":5.5,"y":-2.5,"v":0.0029},{"x":6.5,"y":-2.5,"v":0.0045},{"x":7.5,"y":-2.5,"v":0.0066},{"x":8.5,"y":-2.5,"v":0.0093},{"x":9.5,"y":-2.5,"v":0.0127},
{"x":-9.5,"y":-3.5,"v":-0.0106},{"x":-8.5,"y":-3.5,"v":-0.0076},{"x":-7.5,"y":-3.5,"v":-0.0053},{"x":-6.5,"y":-3.5,"v":-0.0034},{"x":-5.5,"y":-3.5,"v":-0.0021},{"x":-4.5,"y":-3.5,"v":-0.0012},{"x":-3.5,"y":-3.5,"v":-0.0006},{"x":-2.5,"y":-3.5,"v":-0.0002},{"x":-1.5,"y":-3.5,"v":-0.0001},{"x":-0.5,"y":-3.5,"v":0},{"x":0.5,"y":-3.5,"v":0},{"x":1.5,"y":-3.5,"v":0.0001},{"x":2.5,"y":-3.5,"v":0.0002},{"x":3.5,"y":-3.5,"v":0.0006},{"x":4.5,"y":-3.5,"v":0.0012},{"x":5.5,"y":-3.5,"v":0.0021},{"x":6.5,"y":-3.5,"v":0.0034},{"x":7.5,"y":-3.5,"v":0.0053},{"x":8.5,"y":-3.5,"v":0.0076},{"x":9.5,"y":-3.5,"v":0.0106},
{"x":-9.5,"y":-4.5,"v":-0.0079},{"x":-8.5,"y":-4.5,"v":-0.0054},{"x":-7.5,"y":-4.5,"v":-0.0035},{"x":-6.5,"y":-4.5,"v":-0.0021},{"x":-5.5,"y":-4.5,"v":-0.001},{"x":-4.5,"y":-4.5,"v":-0.0004},{"x":-3.5,"y":-4.5,"v":0},{"x":-2.5,"y":-4.5,"v":0.0002},{"x":-1.5,"y":-4.5,"v":0.0002},{"x":-0.5,"y":-4.5,"v":0.0001},{"x":0.5,"y":-4.5,"v":-0.0001},{"x":1.5,"y":-4.5,"v":-0.0002},{"x":2.5,"y":-4.5,"v":-0.0002},{"x":3.5,"y":-4.5,"v":0},{"x":4.5,"y":-4.5,"v":0.0004},{"x":5.5,"y":-4.5,"v":0.001},{"x":6.5,"y":-4.5,"v":0.0021},{"x":7.5,"y":-4.5,"v":0.0035},{"x":8.5,"y":-4.5,"v":0.0054},{"x":9.5,"y":-4.5,"v":0.0079},
{"x":-9.5,"y":-5.5,"v":-0.0039},{"x":-8.5,"y":-5.5,"v":-0.0023},{"x":-7.5,"y":-5.5,"v":-0.001},{"x":-6.5,"y":-5.5,"v":-0.0002},{"x":-5.5,"y":-5.5,"v":0.0004},{"x":-4.5,"y":-5.5,"v":0.0007},{"x":-3.5,"y":-5.5,"v":0.0008},{"x":-2.5,"y":-5.5,"v":0.0007},{"x":-1.5,"y":-5.5,"v":0.0004},{"x":-0.5,"y":-5.5,"v":0.0002},{"x":0.5,"y":-5.5,"v":-0.0002},{"x":1.5,"y":-5.5,"v":-0.0004},{"x":2.5,"y":-5.5,"v":-0.0007},{"x":3.5,"y":-5.5,"v":-0.0008},{"x":4.5,"y":-5.5,"v":-0.0007},{"x":5.5,"y":-5.5,"v":-0.0004},{"x":6.5,"y":-5.5,"v":0.0002},{"x":7.5,"y":-5.5,"v":0.001},{"x":8.5,"y":-5.5,"v":0.0023},{"x":9.5,"y":-5.5,"v":0.0039},
{"x":-9.5,"y":-6.5,"v":0.0008},{"x":-8.5,"y":-6.5,"v":0.0015},{"x":-7.5,"y":-6.5,"v":0.0019},{"x":-6.5,"y":-6.5,"v":0.0021},{"x":-5.5,"y":-6.5,"v":0.0021},{"x":-4.5,"y":-6.5,"v":0.0019},{"x":-3.5,"y":-6.5,"v":0.0016},{"x":-2.5,"y":-6.5,"v":0.0012},{"x":-1.5,"y":-6.5,"v":0.0008},{"x":-0.5,"y":-6.5,"v":0.0003},{"x":0.5,"y":-6.5,"v":-0.0003},{"x":1.5,"y":-6.5,"v":-0.0008},{"x":2.5,"y":-6.5,"v":-0.0012},{"x":3.5,"y":-6.5,"v":-0.0016},{"x":4.5,"y":-6.5,"v":-0.0019},{"x":5.5,"y":-6.5,"v":-0.0021},{"x":6.5,"y":-6.5,"v":-0.0021},{"x":7.5,"y":-6.5,"v":-0.0019},{"x":8.5,"y":-6.5,"v":-0.0015},{"x":9.5,"y":-6.5,"v":-0.0008},
{"x":-9.5,"y":-7.5,"v":0.0064},{"x":-8.5,"y":-7.5,"v":0.0059},{"x":-7.5,"y":-7.5,"v":0.0054},{"x":-6.5,"y":-7.5,"v":0.0048},{"x":-5.5,"y":-7.5,"v":0.0041},{"x":-4.5,"y":-7.5,"v":0.0034},{"x":-3.5,"y":-7.5,"v":0.0027},{"x":-2.5,"y":-7.5,"v":0.0019},{"x":-1.5,"y":-7.5,"v":0.0012},{"x":-0.5,"y":-7.5,"v":0.0004},{"x":0.5,"y":-7.5,"v":-0.0004},{"x":1.5,"y":-7.5,"v":-0.0012},{"x":2.5,"y":-7.5,"v":-0.0019},{"x":3.5,"y":-7.5,"v":-0.0027},{"x":4.5,"y":-7.5,"v":-0.0034},{"x":5.5,"y":-7.5,"v":-0.0041},{"x":6.5,"y":-7.5,"v":-0.0048},{"x":7.5,"y":-7.5,"v":-0.0054},{"x":8.5,"y":-7.5,"v":-0.0059},{"x":9.5,"y":-7.5,"v":-0.0064},
{"x":-9.5,"y":-8.5,"v":0.0132},{"x":-8.5,"y":-8.5,"v":0.0113},{"x":-7.5,"y":-8.5,"v":0.0095},{"x":-6.5,"y":-8.5,"v":0.0079},{"x":-5.5,"y":-8.5,"v":0.0065},{"x":-4.5,"y":-8.5,"v":0.0051},{"x":-3.5,"y":-8.5,"v":0.0039},{"x":-2.5,"y":-8.5,"v":0.0027},{"x":-1.5,"y":-8.5,"v":0.0016},{"x":-0.5,"y":-8.5,"v":0.0005},{"x":0.5,"y":-8.5,"v":-0.0005},{"x":1.5,"y":-8.5,"v":-0.0016},{"x":2.5,"y":-8.5,"v":-0.0027},{"x":3.5,"y":-8.5,"v":-0.0039},{"x":4.5,"y":-8.5,"v":-0.0051},{"x":5.5,"y":-8.5,"v":-0.0065},{"x":6.5,"y":-8.5,"v":-0.0079},{"x":7.5,"y":-8.5,"v":-0.0095},{"x":8.5,"y":-8.5,"v":-0.0113},{"x":9.5,"y":-8.5,"v":-0.0132},
{"x":-9.5,"y":-9.5,"v":0.0212},{"x":-8.5,"y":-9.5,"v":0.0175},{"x":-7.5,"y":-9.5,"v":0.0143},{"x":-6.5,"y":-9.5,"v":0.0116},{"x":-5.5,"y":-9.5,"v":0.0092},{"x":-4.5,"y":-9.5,"v":0.0071},{"x":-3.5,"y":-9.5,"v":0.0053},{"x":-2.5,"y":-9.5,"v":0.0036},{"x":-1.5,"y":-9.5,"v":0.0021},{"x":-0.5,"y":-9.5,"v":0.0007},{"x":0.5,"y":-9.5,"v":-0.0007},{"x":1.5,"y":-9.5,"v":-0.0021},{"x":2.5,"y":-9.5,"v":-0.0036},{"x":3.5,"y":-9.5,"v":-0.0053},{"x":4.5,"y":-9.5,"v":-0.0071},{"x":5.5,"y":-9.5,"v":-0.0092},{"x":6.5,"y":-9.5,"v":-0.0116},{"x":7.5,"y":-9.5,"v":-0.0143},{"x":8.5,"y":-9.5,"v":-0.0175},{"x":9.5,"y":-9.5,"v":-0.0212}
],
"circ":[{"x":0,"y":0}],
"hatch":[
{"x":-2.964,"y":-0.464,"x2":0.464,"y2":2.964},
{"x":-2.542,"y":-1.592,"x2":1.592,"y2":2.542},
{"x":-1.707,"y":-2.467,"x2":2.467,"y2":1.707},
{"x":-0.49,"y":-2.96,"x2":2.96,"y2":0.49},
{"x":1.607,"y":-2.533,"x2":2.533,"y2":-1.607}
]
},
"hconcat":[
{"width":238,"height":238,"layer":[
{"data":{"name":"bg1"},"mark":{"type":"rect"},"encoding":{
"x":{"field":"x","type":"quantitative","title":"x (arcsec)","scale":{"domain":[-40,40],"nice":false,"padding":0},"axis":{"values":[-40,-20,0,20,40],"format":"d"}},
"x2":{"field":"x2"},
"y":{"field":"y","type":"quantitative","title":"y (arcsec)","scale":{"domain":[-40,40],"nice":false,"padding":0},"axis":{"values":[-40,-30,-20,-10,0,10,20,30,40],"format":"d"}},
"y2":{"field":"y2"},
"color":{"field":"v","type":"quantitative","scale":{"scheme":"viridis","domain":[-1.8,-1.237]},"legend":null}}},
{"data":{"name":"k1"},"mark":{"type":"rect","width":6.4,"height":6.4},"encoding":{
"x":{"field":"x","type":"quantitative","title":"x (arcsec)"},
"y":{"field":"y","type":"quantitative","title":"y (arcsec)"},
"color":{"field":"v","type":"quantitative","legend":null}}},
{"data":{"name":"ell"},"mark":{"type":"area","interpolate":"linear"},"encoding":{
"x":{"field":"x","type":"quantitative","title":"x (arcsec)"},
"y":{"field":"lo","type":"quantitative","title":"y (arcsec)"},
"y2":{"field":"hi"},
"color":{"field":"v","type":"quantitative","legend":null}}},
{"data":{"name":"bg1"},"mark":{"type":"rect","fillOpacity":0,"stroke":"#222","strokeWidth":1},"encoding":{
"x":{"field":"x","type":"quantitative","title":"x (arcsec)"},"x2":{"field":"x2"},
"y":{"field":"y","type":"quantitative","title":"y (arcsec)"},"y2":{"field":"y2"}}}
]},
{"width":12.5,"height":238,"data":{"name":"cb1"},
"mark":{"type":"rect","stroke":"#444","strokeWidth":1,"color":{"gradient":"linear","x1":0,"y1":1,"x2":0,"y2":0,"stops":[{"offset":0,"color":"#440154"},{"offset":0.05,"color":"#471365"},{"offset":0.1,"color":"#482475"},{"offset":0.15,"color":"#463480"},{"offset":0.2,"color":"#414487"},{"offset":0.25,"color":"#3b528b"},{"offset":0.3,"color":"#355f8d"},{"offset":0.35,"color":"#2f6c8e"},{"offset":0.4,"color":"#2a788e"},{"offset":0.45,"color":"#25848e"},{"offset":0.5,"color":"#21918c"},{"offset":0.55,"color":"#1e9c89"},{"offset":0.6,"color":"#22a884"},{"offset":0.65,"color":"#2fb47c"},{"offset":0.7,"color":"#44bf70"},{"offset":0.75,"color":"#5ec962"},{"offset":0.8,"color":"#7ad151"},{"offset":0.85,"color":"#9bd93c"},{"offset":0.9,"color":"#bddf26"},{"offset":0.95,"color":"#dfe318"},{"offset":1,"color":"#fde725"}]}},
"encoding":{"y":{"field":"lo","type":"quantitative","scale":{"domain":[-1.8,-1.237],"nice":false,"zero":false,"padding":0},"axis":{"orient":"right","values":[-1.8,-1.7,-1.6,-1.5,-1.4,-1.3],"format":".1f","labelFontSize":11,"tickSize":3.5,"labelPadding":1.5,"title":"log₁₀(Δκ)","titleFontSize":12.5,"titleAngle":270,"titleBaseline":"top","titlePadding":5}},"y2":{"field":"hi"}}},
{"width":118.5,"height":238,"data":{"name":"none"},"mark":"point","encoding":{}},
{"width":238,"height":238,"layer":[
{"data":{"name":"a2"},"mark":{"type":"rect","width":12.6,"height":12.6,"clip":true},"encoding":{
"x":{"field":"x","type":"quantitative","title":"x (arcsec)","scale":{"domain":[-10,10],"nice":false,"padding":0},"axis":{"values":[-10,-5,0,5,10],"format":"d"}},
"y":{"field":"y","type":"quantitative","title":"y (arcsec)","scale":{"domain":[-10,10],"nice":false,"padding":0},"axis":{"values":[-10,-7.5,-5,-2.5,0,2.5,5,7.5,10],"format":".1f"}},
"color":{"field":"v","type":"quantitative","scale":{"scheme":"viridis","domain":[-0.1,0.1]},"legend":null}}},
{"data":{"name":"fr"},"mark":{"type":"rect","fillOpacity":0,"stroke":"#222","strokeWidth":1},"encoding":{
"x":{"field":"x","type":"quantitative","title":"x (arcsec)"},"x2":{"field":"x2"},
"y":{"field":"y","type":"quantitative","title":"y (arcsec)"},"y2":{"field":"y2"}}}
]},
{"width":12.5,"height":238,"data":{"name":"cb2"},
"mark":{"type":"rect","stroke":"#444","strokeWidth":1,"color":{"gradient":"linear","x1":0,"y1":1,"x2":0,"y2":0,"stops":[{"offset":0,"color":"#440154"},{"offset":0.05,"color":"#471365"},{"offset":0.1,"color":"#482475"},{"offset":0.15,"color":"#463480"},{"offset":0.2,"color":"#414487"},{"offset":0.25,"color":"#3b528b"},{"offset":0.3,"color":"#355f8d"},{"offset":0.35,"color":"#2f6c8e"},{"offset":0.4,"color":"#2a788e"},{"offset":0.45,"color":"#25848e"},{"offset":0.5,"color":"#21918c"},{"offset":0.55,"color":"#1e9c89"},{"offset":0.6,"color":"#22a884"},{"offset":0.65,"color":"#2fb47c"},{"offset":0.7,"color":"#44bf70"},{"offset":0.75,"color":"#5ec962"},{"offset":0.8,"color":"#7ad151"},{"offset":0.85,"color":"#9bd93c"},{"offset":0.9,"color":"#bddf26"},{"offset":0.95,"color":"#dfe318"},{"offset":1,"color":"#fde725"}]}},
"encoding":{"y":{"field":"lo","type":"quantitative","scale":{"domain":[-0.1,0.1],"nice":false,"zero":false,"padding":0},"axis":{"orient":"right","values":[-0.1,-0.075,-0.05,-0.025,0,0.025,0.05,0.075,0.1],"format":".3f","labelFontSize":11,"tickSize":3.5,"labelPadding":1.5,"title":"αₓ[Δκ]","titleFontSize":12.5,"titleAngle":270,"titleBaseline":"top","titlePadding":3}},"y2":{"field":"hi"}}},
{"width":118.5,"height":238,"data":{"name":"none"},"mark":"point","encoding":{}},
{"width":238,"height":238,"layer":[
{"data":{"name":"r3"},"mark":{"type":"rect","width":12.6,"height":12.6,"clip":true},"encoding":{
"x":{"field":"x","type":"quantitative","title":"x (arcsec)","scale":{"domain":[-10,10],"nice":false,"padding":0},"axis":{"values":[-10,-5,0,5,10],"format":"d"}},
"y":{"field":"y","type":"quantitative","title":"y (arcsec)","scale":{"domain":[-10,10],"nice":false,"padding":0},"axis":{"values":[-10,-7.5,-5,-2.5,0,2.5,5,7.5,10],"format":".1f"}},
"color":{"field":"v","type":"quantitative","scale":{"scheme":"viridis","domain":[-0.023,0.023]},"legend":null}}},
{"data":{"name":"hatch"},"mark":{"type":"rule","color":"#111","strokeWidth":1.1},"encoding":{
"x":{"field":"x","type":"quantitative","title":"x (arcsec)"},"x2":{"field":"x2"},
"y":{"field":"y","type":"quantitative","title":"y (arcsec)"},"y2":{"field":"y2"}}},
{"data":{"name":"circ"},"mark":{"type":"point","shape":"circle","size":5098,"filled":false,"opacity":1,"color":"#111","strokeWidth":1.2},"encoding":{
"x":{"field":"x","type":"quantitative","title":"x (arcsec)"},
"y":{"field":"y","type":"quantitative","title":"y (arcsec)"}}},
{"data":{"name":"fr"},"mark":{"type":"rect","fillOpacity":0,"stroke":"#222","strokeWidth":1},"encoding":{
"x":{"field":"x","type":"quantitative","title":"x (arcsec)"},"x2":{"field":"x2"},
"y":{"field":"y","type":"quantitative","title":"y (arcsec)"},"y2":{"field":"y2"}}}
]},
{"width":12.5,"height":238,"data":{"name":"cb3"},
"mark":{"type":"rect","stroke":"#444","strokeWidth":1,"color":{"gradient":"linear","x1":0,"y1":1,"x2":0,"y2":0,"stops":[{"offset":0,"color":"#440154"},{"offset":0.05,"color":"#471365"},{"offset":0.1,"color":"#482475"},{"offset":0.15,"color":"#463480"},{"offset":0.2,"color":"#414487"},{"offset":0.25,"color":"#3b528b"},{"offset":0.3,"color":"#355f8d"},{"offset":0.35,"color":"#2f6c8e"},{"offset":0.4,"color":"#2a788e"},{"offset":0.45,"color":"#25848e"},{"offset":0.5,"color":"#21918c"},{"offset":0.55,"color":"#1e9c89"},{"offset":0.6,"color":"#22a884"},{"offset":0.65,"color":"#2fb47c"},{"offset":0.7,"color":"#44bf70"},{"offset":0.75,"color":"#5ec962"},{"offset":0.8,"color":"#7ad151"},{"offset":0.85,"color":"#9bd93c"},{"offset":0.9,"color":"#bddf26"},{"offset":0.95,"color":"#dfe318"},{"offset":1,"color":"#fde725"}]}},
"encoding":{"y":{"field":"lo","type":"quantitative","scale":{"domain":[-0.023,0.023],"nice":false,"zero":false,"padding":0},"axis":{"orient":"right","values":[-0.02,-0.01,0,0.01,0.02],"format":".2f","labelFontSize":11,"tickSize":3.5,"labelPadding":1.5,"title":"αₓ[Δκ] − αₓ[shear]","titleFontSize":12,"titleAngle":270,"titleBaseline":"top","titlePadding":3}},"y2":{"field":"hi"}}}
],
"resolve":{"scale":{"color":"independent","y":"independent","x":"independent"}}
}
